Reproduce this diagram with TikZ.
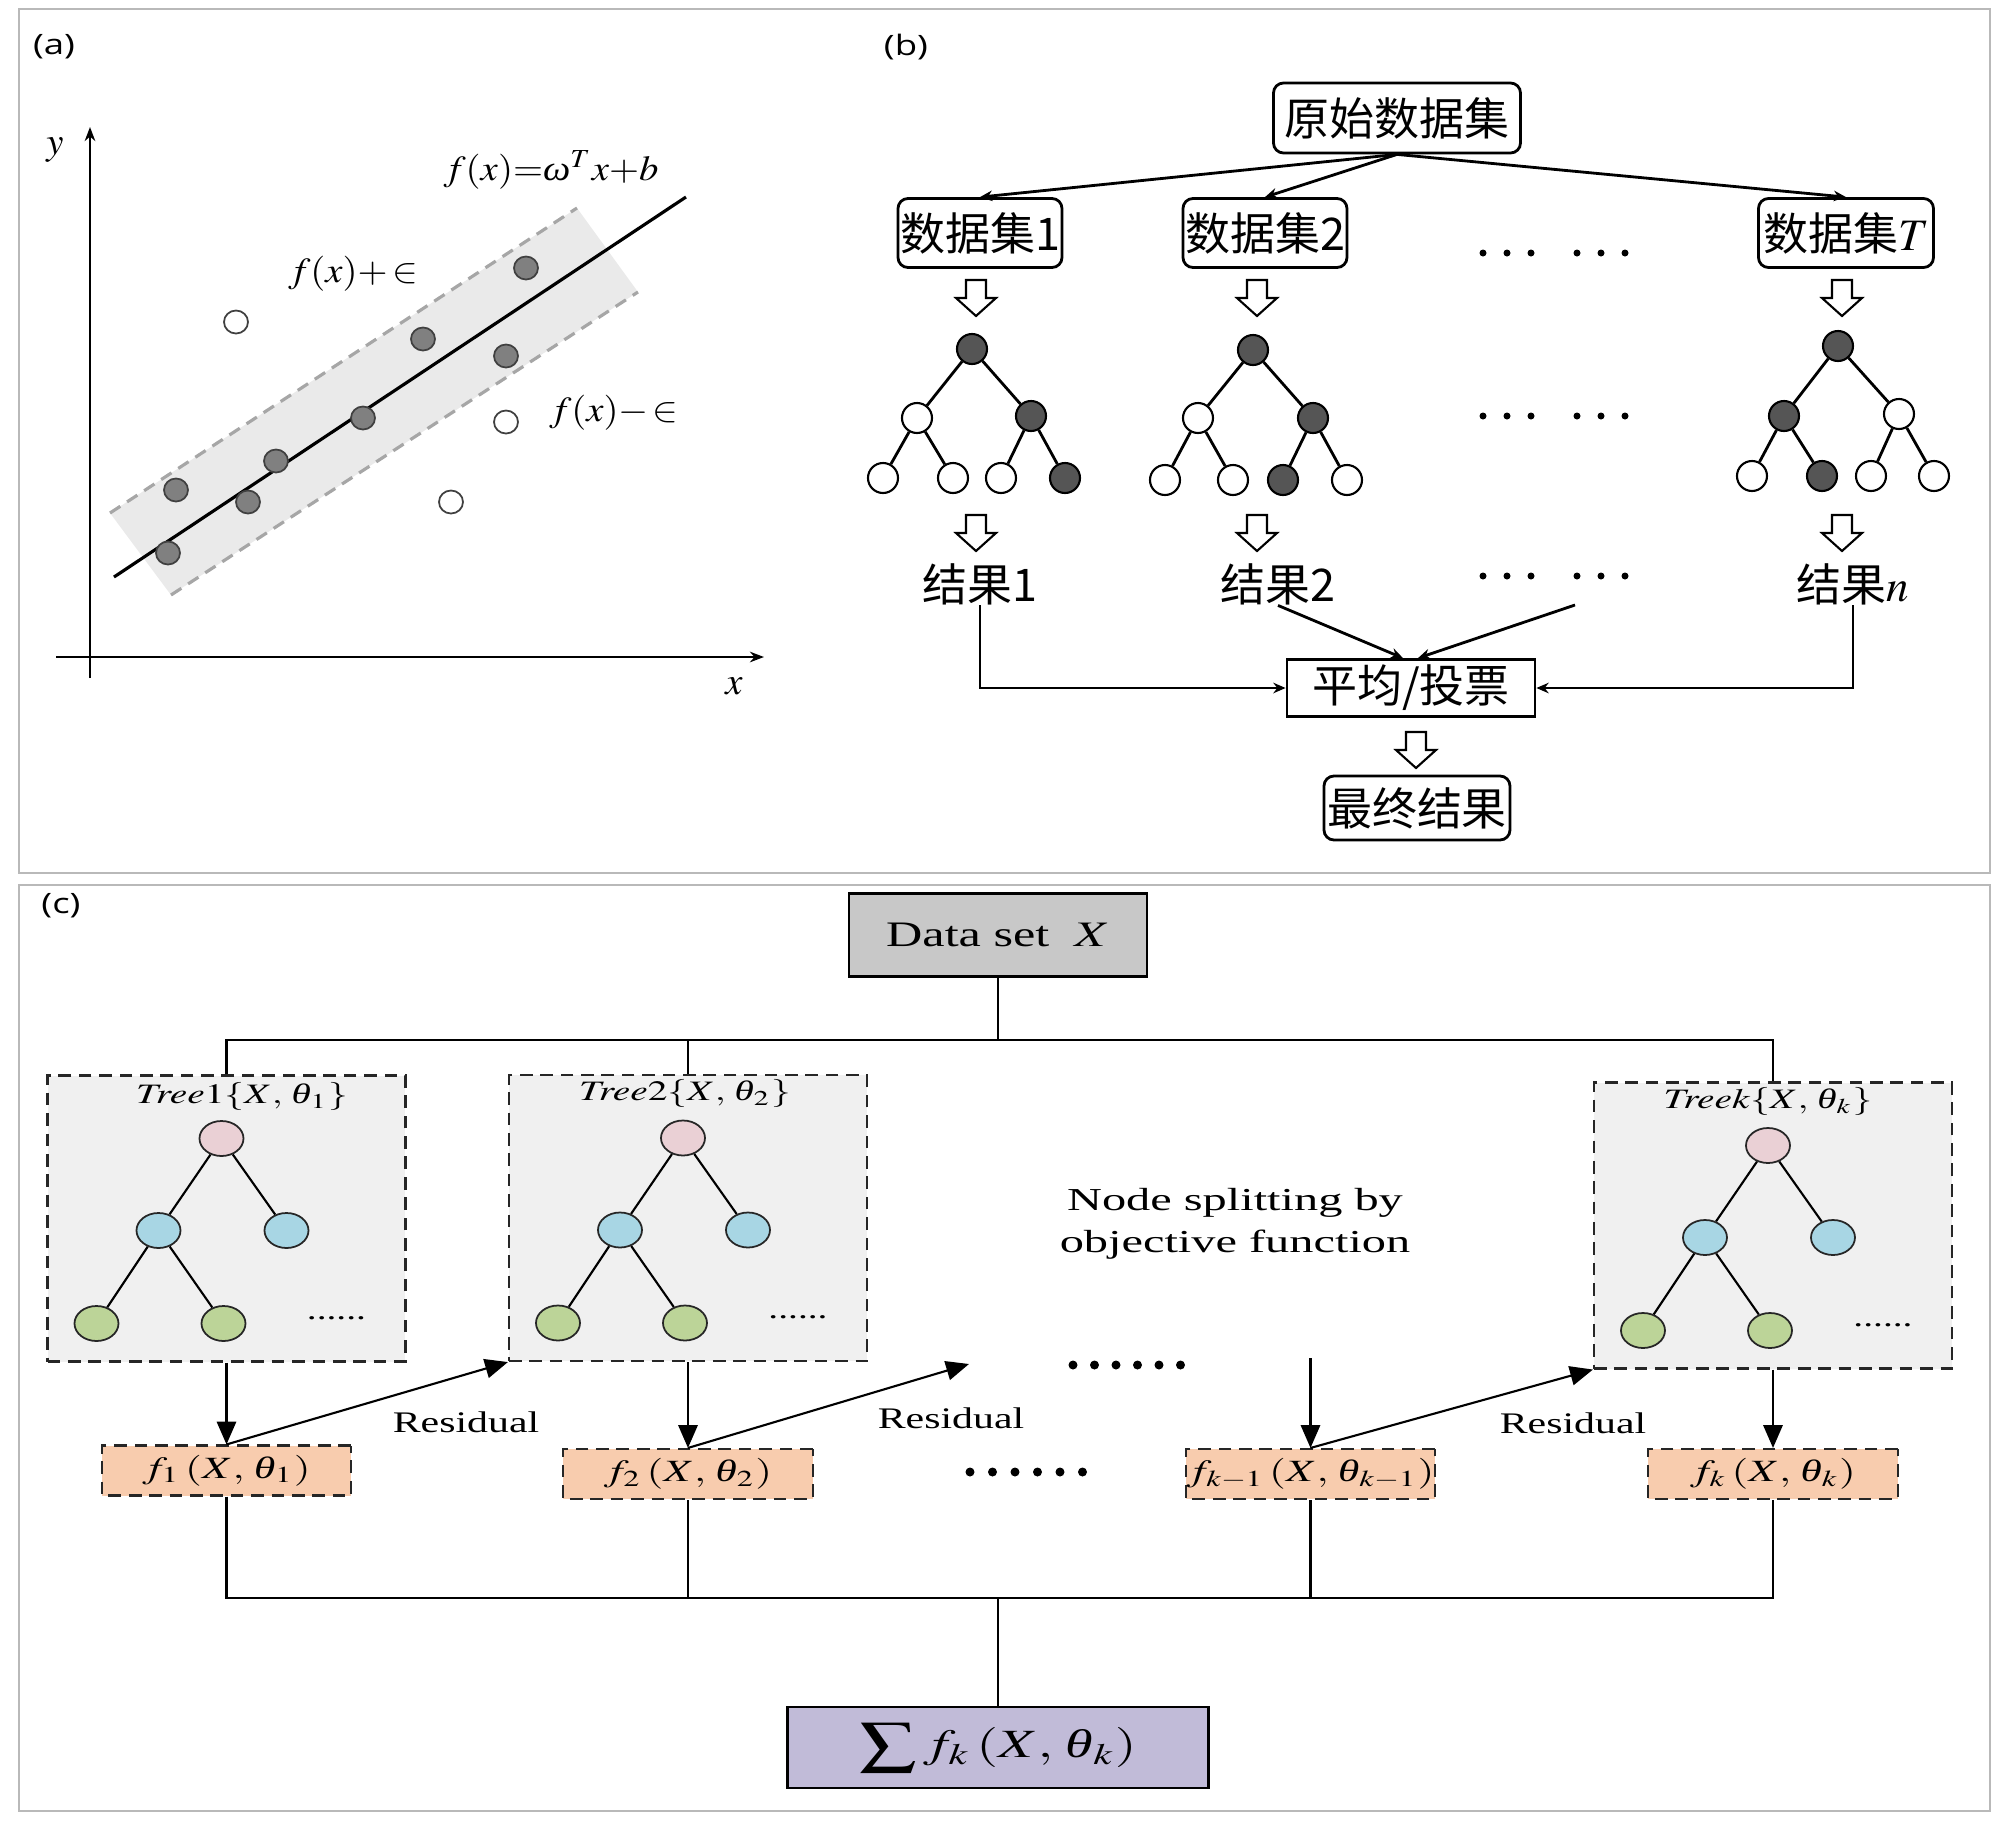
\documentclass[tikz,border=0pt]{standalone}
\usepackage{mathptmx}
\usepackage{fontspec}
\setmainfont{Liberation Serif}
\setsansfont{Open Sans}
\newfontfamily\cjk{Noto Sans CJK SC}
\usetikzlibrary{arrows.meta,shapes.geometric}

\definecolor{bandgray}{RGB}{234,234,234}
\definecolor{ptgray}{RGB}{128,128,128}
\definecolor{darknode}{RGB}{85,85,85}
\definecolor{boxgray}{RGB}{200,200,200}
\definecolor{treebg}{RGB}{240,240,240}
\definecolor{rootpink}{RGB}{234,208,213}
\definecolor{midblue}{RGB}{168,214,228}
\definecolor{leafgreen}{RGB}{188,212,152}
\definecolor{outsalmon}{RGB}{248,204,174}
\definecolor{sumlilac}{RGB}{193,187,216}
\definecolor{framegray}{RGB}{185,185,185}

% italic greek letter taken from the text font
\newcommand{\gr}[1]{\textit{#1}}

% hollow block arrow, argument = top centre
\newcommand{\hollowarrow}[1]{%
  \draw[line width=0.6pt,fill=white] (#1) ++(-10,0) -- ++(0,18) -- ++(-10,0)
    -- ++(20,18) -- ++(20,-18) -- ++(-10,0) -- ++(0,-18) -- cycle;}

\begin{document}
\begin{tikzpicture}[x=0.1mm, y=-0.1mm,
    every node/.style={inner sep=0pt},
    panelframe/.style={draw=framegray, line width=0.6pt},
    tag/.style={font=\sffamily\fontsize{8}{9}\selectfont, xscale=1.3},
    axisarr/.style={line width=0.7pt, -{Stealth[length=4pt,width=3pt]}},
    axlbl/.style={font=\fontsize{11}{12}\selectfont},
    flbl/.style={font=\fontsize{10}{11}\selectfont, xscale=1.1},
    bandline/.style={draw=black!35, line width=0.9pt, dash pattern=on 3.5pt off 2.3pt},
    svpt/.style={ellipse, draw=black!75, fill=ptgray, line width=0.5pt,
      minimum width=2.4mm, minimum height=2.3mm},
    outpt/.style={svpt, fill=white},
    setbox/.style={draw, rounded corners=1mm, line width=0.8pt,
      font=\cjk\fontsize{12.8}{14}\selectfont},
    votebox/.style={draw, line width=0.8pt, font=\cjk\fontsize{12.8}{14}\selectfont},
    reslbl/.style={font=\cjk\fontsize{12.8}{14}\selectfont},
    thinarr/.style={line width=0.8pt, -{Stealth[length=3.5pt,width=3pt]}},
    dk/.style={circle, draw, fill=darknode, line width=0.6pt, minimum size=3mm},
    wt/.style={dk, fill=white},
    tedge/.style={line width=0.8pt},
    dsbox/.style={draw, fill=boxgray, line width=0.6pt, xscale=1.4,
      minimum width=21.3mm, minimum height=8.3mm, font=\fontsize{10.2}{12}\selectfont},
    treebox/.style={draw=black!85, fill=treebg, line width=0.6pt,
      dash pattern=on 3.6pt off 2.2pt, minimum width=35.8mm, minimum height=28.6mm},
    ttl/.style={font=\fontsize{8}{9}\selectfont, xscale=1.4},
    cn/.style={ellipse, draw=black!85, line width=0.5pt,
      minimum width=4.4mm, minimum height=3.5mm},
    fbox/.style={draw=black!85, fill=outsalmon, line width=0.6pt,
      dash pattern=on 3.6pt off 2.2pt, xscale=1.4,
      minimum width=17.8mm, minimum height=5mm, font=\fontsize{8.8}{10}\selectfont},
    sumbox/.style={draw, fill=sumlilac, line width=0.8pt, xscale=1.4,
      minimum width=30.1mm, minimum height=8.1mm, font=\fontsize{11.4}{13}\selectfont},
    ctext/.style={font=\fontsize{8.5}{10}\selectfont, xscale=1.4},
    bigarr/.style={line width=0.6pt, -{Triangle[length=6.5pt,width=5.5pt]}},
    bus/.style={line width=0.6pt}]

\useasboundingbox (0,0) rectangle (2000,1822);

% Panel frames and tags
\draw[panelframe] (19,9) rectangle (1990,873);
\draw[panelframe] (19,885) rectangle (1990,1811);
\node[tag] (taga) at (54,47) {(a)};
\node[tag] (tagb) at (906,47) {(b)};
\node[tag] (tagc) at (61,906) {(c)};

%========================
% (a) SVR
%========================

% axes
\coordinate (ybot) at (90,678);
\coordinate (ytop) at (90,127);
\coordinate (xleft) at (56,657);
\coordinate (xright) at (764,657);
\draw[axisarr] (ybot) -- (ytop);
\draw[axisarr] (xleft) -- (xright);
\node[axlbl] (ylab) at (55,150) {$y$};
\node[axlbl] (xlab) at (734,686) {$x$};

% epsilon band
\fill[bandgray] (110,513) -- (577,208) -- (638,292) -- (171,595) -- cycle;
\draw[bandline] (110,513) -- (577,208);
\draw[bandline] (171,595) -- (638,292);

% regression line
\coordinate (fa) at (114,577);
\coordinate (fb) at (686,197);
\draw[line width=0.9pt] (fa) -- (fb);

% samples inside the band
\node[svpt] (s1) at (168,553) {};
\node[svpt] (s2) at (176,490) {};
\node[svpt] (s3) at (248,502) {};
\node[svpt] (s4) at (276,461) {};
\node[svpt] (s5) at (363,418) {};
\node[svpt] (s6) at (423,339) {};
\node[svpt] (s7) at (506,356) {};
\node[svpt] (s8) at (526,268) {};

% samples outside
\node[outpt] (o1) at (236,322) {};
\node[outpt] (o2) at (506,422) {};
\node[outpt] (o3) at (451,502) {};

% labels
\node[flbl] (fline) at (551,170) {$f(x){=}\gr{ω}^{T}x{+}b$};
\node[flbl] (fup) at (353,274) {$f(x){+}\,{\in}$};
\node[flbl] (flow) at (614,413) {$f(x){-}\,{\in}$};

%========================
% (b) Random forest
%========================

% data sets
\node[setbox, minimum width=24.7mm, minimum height=7mm] (orig) at (1397,118) {原始数据集};
\node[setbox, minimum width=16.4mm, minimum height=6.9mm] (set1) at (980,233) {数据集1};
\node[setbox, minimum width=16.4mm, minimum height=6.9mm] (set2) at (1265,233) {数据集2};
\node[setbox, minimum width=17.5mm, minimum height=6.9mm] (setT) at (1846,233) {数据集$T$};
\draw[thinarr] (orig.south) -- (set1.north);
\draw[thinarr] (orig.south) -- (set2.north);
\draw[thinarr] (orig.south) -- (setT.north);

\foreach \x in {1483,1507,1531,1577,1601,1625} \fill (\x,253) circle (0.35mm);

\hollowarrow{976,280}
\hollowarrow{1257,280}
\hollowarrow{1842,280}

% tree 1
\node[dk] (b1) at (972,349) {};
\node[wt] (b1a) at (917,418) {};
\node[dk] (b1b) at (1031,416) {};
\node[wt] (b1aa) at (883,478) {};
\node[wt] (b1ab) at (953,478) {};
\node[wt] (b1ba) at (1001,478) {};
\node[dk] (b1bb) at (1065,478) {};
\draw[tedge] (b1) -- (b1a);
\draw[tedge] (b1) -- (b1b);
\draw[tedge] (b1a) -- (b1aa);
\draw[tedge] (b1a) -- (b1ab);
\draw[tedge] (b1b) -- (b1ba);
\draw[tedge] (b1b) -- (b1bb);

% tree 2
\node[dk] (b2) at (1253,350) {};
\node[wt] (b2a) at (1198,418) {};
\node[dk] (b2b) at (1313,418) {};
\node[wt] (b2aa) at (1165,480) {};
\node[wt] (b2ab) at (1233,480) {};
\node[dk] (b2ba) at (1283,480) {};
\node[wt] (b2bb) at (1347,480) {};
\draw[tedge] (b2) -- (b2a);
\draw[tedge] (b2) -- (b2b);
\draw[tedge] (b2a) -- (b2aa);
\draw[tedge] (b2a) -- (b2ab);
\draw[tedge] (b2b) -- (b2ba);
\draw[tedge] (b2b) -- (b2bb);

% tree T
\node[dk] (bT) at (1838,346) {};
\node[dk] (bTa) at (1784,416) {};
\node[wt] (bTb) at (1899,414) {};
\node[wt] (bTaa) at (1752,476) {};
\node[dk] (bTab) at (1822,476) {};
\node[wt] (bTba) at (1871,476) {};
\node[wt] (bTbb) at (1934,476) {};
\draw[tedge] (bT) -- (bTa);
\draw[tedge] (bT) -- (bTb);
\draw[tedge] (bTa) -- (bTaa);
\draw[tedge] (bTa) -- (bTab);
\draw[tedge] (bTb) -- (bTba);
\draw[tedge] (bTb) -- (bTbb);

\foreach \x in {1483,1507,1531,1577,1601,1625} \fill (\x,416) circle (0.35mm);

\hollowarrow{976,515}
\hollowarrow{1257,515}
\hollowarrow{1842,515}

% results and vote
\node[reslbl] (r1) at (980,584) {结果1};
\node[reslbl] (r2) at (1278,584) {结果2};
\node[reslbl] (rn) at (1853,584) {结果$n$};
\foreach \x in {1483,1507,1531,1577,1601,1625} \fill (\x,576) circle (0.35mm);
\coordinate (dr) at (1575,605);

\node[votebox, minimum width=24.8mm, minimum height=5.7mm] (vote) at (1411,688) {平均/投票};
\draw[thinarr] (r1.south) |- (vote.west);
\draw[thinarr] (rn.south) |- (vote.east);
\draw[thinarr] (r2.south) -- ([xshift=-0.8mm]vote.north);
\draw[thinarr] (dr) -- ([xshift=0.7mm]vote.north);

\hollowarrow{1416,732}
\node[setbox, minimum width=18.6mm, minimum height=6.4mm] (final) at (1417,808) {最终结果};

%========================
% (c) Boosting
%========================

\node[dsbox] (ds) at (998,935) {Data set\enspace$X$};

% tree boxes
\node[treebox] (t1) at (226.5,1218.5) {};
\node[treebox] (t2) at (688,1218) {};
\node[treebox] (tk) at (1773,1225.5) {};

\coordinate (tbus) at (998,1040);
\draw[bus] (ds.south) -- (tbus);
\draw[bus] (t1.north) |- (tbus) -| (tk.north);
\draw[bus] (t2.north) -- (t2.north |- tbus);

\node[ttl] (t1ttl) at (242,1097) {$\mathit{Tree}1\{X,\,\gr{θ}_1\}$};
\node[ttl] (t2ttl) at (685,1094) {$\mathit{Tree}2\{X,\,\gr{θ}_2\}$};
\node[ttl] (tkttl) at (1768,1102) {$\mathit{Treek}\{X,\,\gr{θ}_k\}$};

% tree 1 nodes
\node[cn, fill=rootpink] (c1) at (221.5,1138.5) {};
\node[cn, fill=midblue] (c1a) at (158.5,1230.5) {};
\node[cn, fill=midblue] (c1b) at (286.5,1230.5) {};
\node[cn, fill=leafgreen] (c1aa) at (96.5,1323.5) {};
\node[cn, fill=leafgreen] (c1ab) at (223.5,1323.5) {};
\node[ttl] (c1dots) at (336.5,1318) {......};
\draw[bus] (c1) -- (c1a);
\draw[bus] (c1) -- (c1b);
\draw[bus] (c1a) -- (c1aa);
\draw[bus] (c1a) -- (c1ab);

% tree 2 nodes
\node[cn, fill=rootpink] (c2) at (683,1138) {};
\node[cn, fill=midblue] (c2a) at (620,1230) {};
\node[cn, fill=midblue] (c2b) at (748,1230) {};
\node[cn, fill=leafgreen] (c2aa) at (558,1323) {};
\node[cn, fill=leafgreen] (c2ab) at (685,1323) {};
\node[ttl] (c2dots) at (798,1317) {......};
\draw[bus] (c2) -- (c2a);
\draw[bus] (c2) -- (c2b);
\draw[bus] (c2a) -- (c2aa);
\draw[bus] (c2a) -- (c2ab);

% tree k nodes
\node[cn, fill=rootpink] (ck) at (1768,1145.5) {};
\node[cn, fill=midblue] (cka) at (1705,1237.5) {};
\node[cn, fill=midblue] (ckb) at (1833,1237.5) {};
\node[cn, fill=leafgreen] (ckaa) at (1643,1330.5) {};
\node[cn, fill=leafgreen] (ckab) at (1770,1330.5) {};
\node[ttl] (ckdots) at (1883,1325) {......};
\draw[bus] (ck) -- (cka);
\draw[bus] (ck) -- (ckb);
\draw[bus] (cka) -- (ckaa);
\draw[bus] (cka) -- (ckab);

\node[ctext, font=\fontsize{9.1}{12}\selectfont, xscale=1.08, align=center] (split)
  at (1235,1224) {Node splitting by\\objective function};

% weak learners
\node[fbox] (f1) at (226.5,1470.5) {$f_1\,(X,\,\gr{θ}_1)$};
\node[fbox] (f2) at (688,1474) {$f_2\,(X,\,\gr{θ}_2)$};
\node[fbox] (fk1) at (1310.5,1474) {$f_{k-1}\,(X,\,\gr{θ}_{k-1})$};
\node[fbox] (fk) at (1773,1474) {$f_k\,(X,\,\gr{θ}_k)$};

\draw[bigarr] (t1.south) -- (f1.north);
\draw[bigarr] (t2.south) -- (f2.north);
\draw[bigarr] (tk.south) -- (fk.north);
\coordinate (kin) at (1310.5,1358);
\draw[bigarr] (kin) -- (fk1.north);

% residuals
\coordinate (res2) at (969,1364);
\draw[bigarr] (f1.north) -- (t2.south west);
\draw[bigarr] (f2.north) -- (res2);
\draw[bigarr] (fk1.north) -- (tk.south west);
\node[ctext] (resa) at (466,1422) {Residual};
\node[ctext] (resb) at (951,1418) {Residual};
\node[ctext] (resc) at (1573,1423) {Residual};

\foreach \i in {0,...,5} \fill (1073+21.5*\i,1365) circle (0.45mm);
\foreach \i in {0,...,5} \fill (970+22.5*\i,1472) circle (0.45mm);

% sum of learners
\coordinate (sbus) at (998,1598);
\draw[bus] (f1.south) |- (sbus) -| (fk.south);
\draw[bus] (f2.south) -- (f2.south |- sbus);
\draw[bus] (fk1.south) -- (fk1.south |- sbus);
\node[sumbox] (sum) at (998,1747.5) {$\displaystyle\sum f_k\,(X,\,\gr{θ}_k)$};
\draw[bus] (sbus) -- (sum.north);

\end{tikzpicture}
\end{document}
